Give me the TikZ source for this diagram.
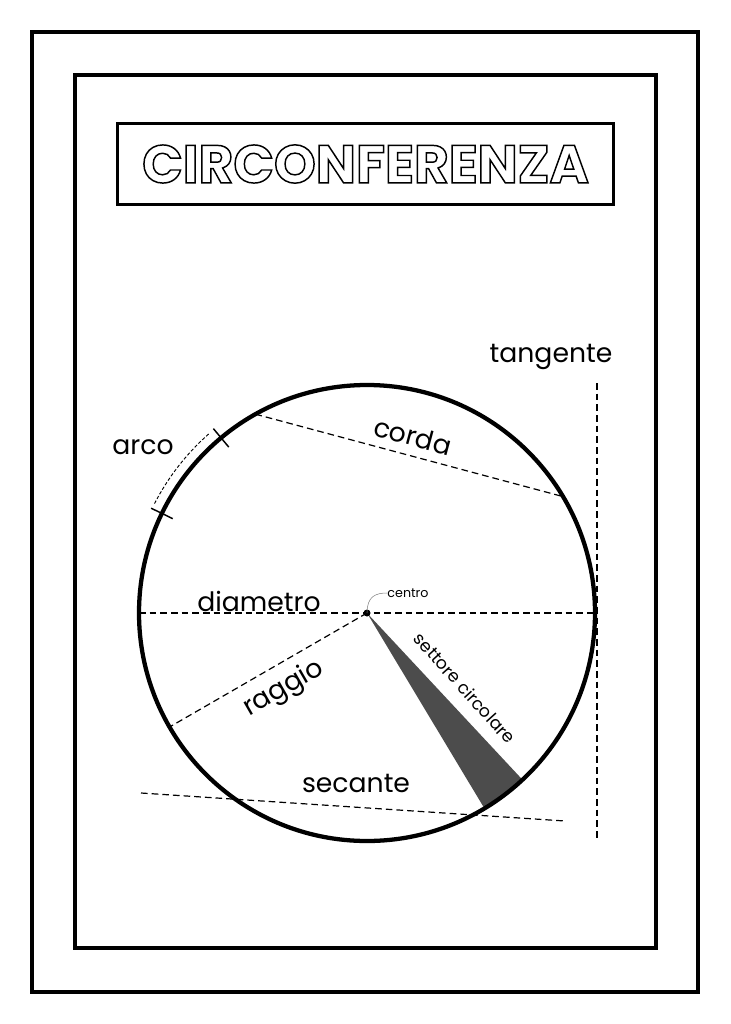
\documentclass[tikz,border=0pt]{standalone}
\usepackage{fontspec}
\setmainfont{Poppins}
\usetikzlibrary{calc, positioning}

% hollow letters for the title
\newcommand{\hollowtext}[1]{\special{pdf:literal direct 1 Tr 1.1 w}#1\special{pdf:literal direct 0 Tr}}

\begin{document}
\begin{tikzpicture}[x=0.75pt, y=-0.75pt,
    frame/.style={draw=black, line width=2.7pt},
    circ/.style={draw=black, line width=3.2pt},
    dashline/.style={draw=black, line width=0.9pt, dash pattern=on 5pt off 3pt},
    lbl/.style={font=\fontsize{20}{22}\selectfont, inner sep=0pt},
    smalllbl/.style={font=\fontsize{9.5}{11}\selectfont, inner sep=0pt}]
  \useasboundingbox (0,0) rectangle (731,1024);
  % Frames
  \draw[frame] (32,32) rectangle (698,992);
  \draw[frame] (75,75) rectangle (656,948);
  % Title
  \node[frame, minimum width=372pt, minimum height=61pt] (title) at (365.5,164) {};
  \node[font=\fontsize{40}{44}\selectfont\bfseries, inner sep=0pt] (titletext) at (title.center) {\hollowtext{CIRCONFERENZA}};
  % Circle
  \coordinate (c) at (367,613);
  \fill[black!70] (c) -- ($(c)+(47:228)$) arc[start angle=47, end angle=59, radius=228] -- cycle;
  \draw[circ] (c) circle[radius=228];
  \fill (c) circle[radius=3.5];
  % Chord
  \coordinate (cordaA) at ($(c)+(240.7:228)$);
  \coordinate (cordaB) at ($(c)+(329.3:228)$);
  \draw[dashline] (cordaA) -- (cordaB);
  \node[lbl, rotate=-15] (corda) at (413,436) {corda};
  % Diameter
  \coordinate (diamA) at ($(c)+(180:228)$);
  \coordinate (diamB) at ($(c)+(0:228)$);
  \draw[dashline] (diamA) -- (diamB);
  \node[lbl] (diametro) at (259,601) {diametro};
  % Radius
  \coordinate (raggioB) at ($(c)+(150:228)$);
  \draw[dashline] (c) -- (raggioB);
  \node[lbl, rotate=30] (raggio) at (284,689) {raggio};
  % Centre
  \node[smalllbl] (centro) at (408,593) {centro};
  \draw[black!50, line width=0.4pt] (c) .. controls (367,596) and (376,593) .. (centro.west);
  % Sector
  \node[font=\fontsize{13}{15}\selectfont, inner sep=0pt, rotate=-48] (settore) at (465,688) {settore circolare};
  % Tangent
  \coordinate (tangA) at (597,383);
  \coordinate (tangB) at (597,840);
  \draw[dashline] (tangA) -- (tangB);
  \node[lbl] (tangente) at (551,357) {tangente};
  % Secant
  \coordinate (secA) at (141,793);
  \coordinate (secB) at (565,821);
  \draw[dashline] (secA) -- (secB);
  \node[lbl] (secante) at (356,783) {secante};
  % Arc
  \draw[black, line width=1.1pt] ($(c)+(230.2:216)$) -- ($(c)+(230.2:240)$);
  \draw[black, line width=1.1pt] ($(c)+(205.9:216)$) -- ($(c)+(205.9:240)$);
  \draw[black, line width=0.7pt, dash pattern=on 2.5pt off 1.5pt] ($(c)+(228.5:239)$) arc[start angle=228.5, end angle=207, radius=239];
  \node[lbl] (arco) at (143,447) {arco};
\end{tikzpicture}
\end{document}
